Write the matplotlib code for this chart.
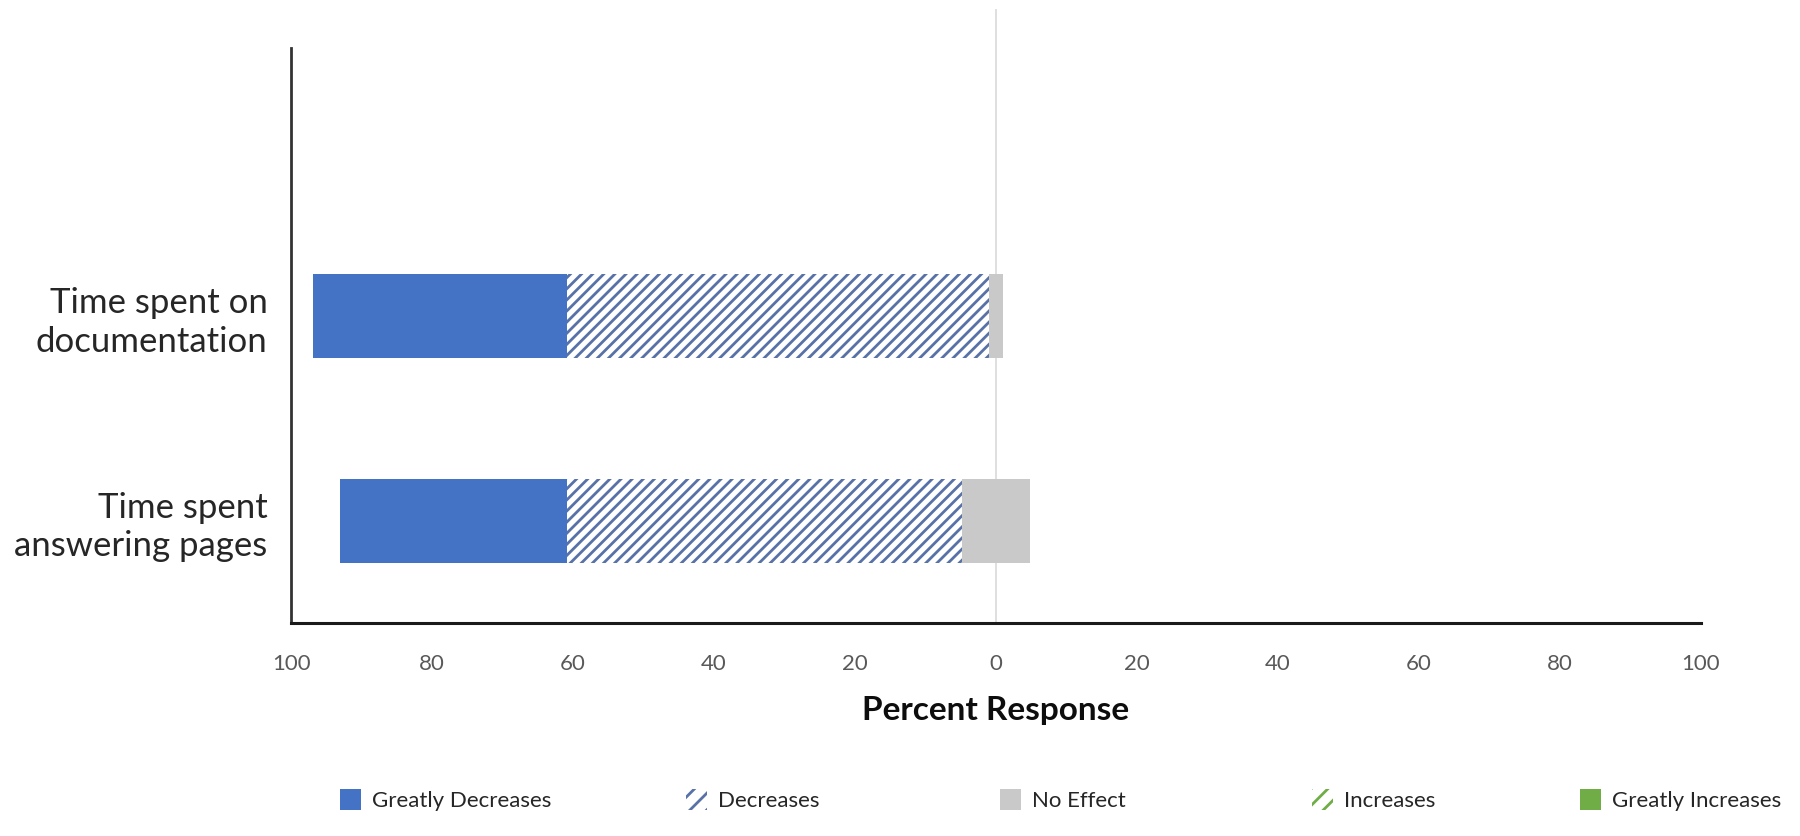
import matplotlib
matplotlib.use("Agg")
import matplotlib.pyplot as plt
from matplotlib.patches import Patch
import numpy as np

plt.rcParams["font.family"] = ["Lato", "DejaVu Sans"]
plt.rcParams["hatch.linewidth"] = 2.0

# Survey responses (percent), bottom row first
categories = ["Time spent\nanswering pages", "Time spent on\ndocumentation"]
greatly_decreases = [32.1, 36.0]
decreases = [56.1, 59.9]
no_effect = [9.6, 2.0]
increases = [0.0, 0.0]
greatly_increases = [0.0, 0.0]

tick_values = [-100, -80, -60, -40, -20, 0, 20, 40, 60, 80, 100]
tick_labels = [str(abs(v)) for v in tick_values]

BLUE = "#4472C4"
HATCH_BLUE = "#5872A8"
GRAY = "#C9C9C9"
GREEN = "#70AD47"

fig = plt.figure(figsize=(18, 8.36), dpi=100)
ax = fig.add_axes([0.1617, 0.2548, 0.7833, 0.7342])

y = np.arange(len(categories))
ne = np.array(no_effect)
dec = np.array(decreases)
gdec = np.array(greatly_decreases)
inc = np.array(increases)
ginc = np.array(greatly_increases)
h = 0.41

# diverging stack: "No Effect" straddles zero
ne_left = -ne / 2
ax.barh(y, ne, left=ne_left, height=h, color=GRAY, linewidth=0)
ax.barh(y, -dec, left=ne_left, height=h, color="white", edgecolor=HATCH_BLUE,
        hatch="///", linewidth=0)
ax.barh(y, -gdec, left=ne_left - dec, height=h, color=BLUE, linewidth=0)
ax.barh(y, inc, left=ne / 2, height=h, color="white", edgecolor=GREEN,
        hatch="///", linewidth=0)
ax.barh(y, ginc, left=ne / 2 + inc, height=h, color=GREEN, linewidth=0)

ax.axvline(0, color="#D9D9D9", lw=1.2, zorder=0)

ax.set_xlim(-100, 100)
ax.set_ylim(-0.5, 2.5)
ax.set_xticks(tick_values)
ax.set_xticklabels(tick_labels)
ax.set_yticks(y)
ax.set_yticklabels(categories, linespacing=1.25)
ax.tick_params(axis="x", length=0, pad=22, labelsize=16, labelcolor="#595959")
ax.tick_params(axis="y", length=0, pad=17, labelsize=25, labelcolor="#262626")

for s in ["top", "right"]:
    ax.spines[s].set_visible(False)
ax.spines["bottom"].set_linewidth(2.2)
ax.spines["bottom"].set_color("#1a1a1a")
ax.spines["left"].set_linewidth(2)
ax.spines["left"].set_color("#333333")
ax.spines["left"].set_bounds(-0.5, 2.31)

ax.set_xlabel("Percent Response", fontsize=24, fontweight="bold",
              color="#0d0d0d", labelpad=16)

handles = [
    Patch(facecolor=BLUE, linewidth=0),
    Patch(facecolor="white", edgecolor=HATCH_BLUE, hatch="//", linewidth=0),
    Patch(facecolor=GRAY, linewidth=0),
    Patch(facecolor="white", edgecolor=GREEN, hatch="//", linewidth=0),
    Patch(facecolor=GREEN, linewidth=0),
]
labels = ["Greatly Decreases", "Decreases", "No Effect", "Increases",
          "Greatly Increases"]
legend_x = [340, 686, 1000, 1312, 1580]  # left edge of each key, in px
for hd, lb, lx in zip(handles, labels, legend_x):
    fig.legend([hd], [lb], loc="center left",
               bbox_to_anchor=(lx / 1800, 1 - 800 / 836),
               frameon=False, fontsize=16, handlelength=0.95,
               handleheight=1.1, handletextpad=0.5, borderpad=0,
               borderaxespad=0, labelcolor="#262626")

fig.savefig("out.png", dpi=100)
